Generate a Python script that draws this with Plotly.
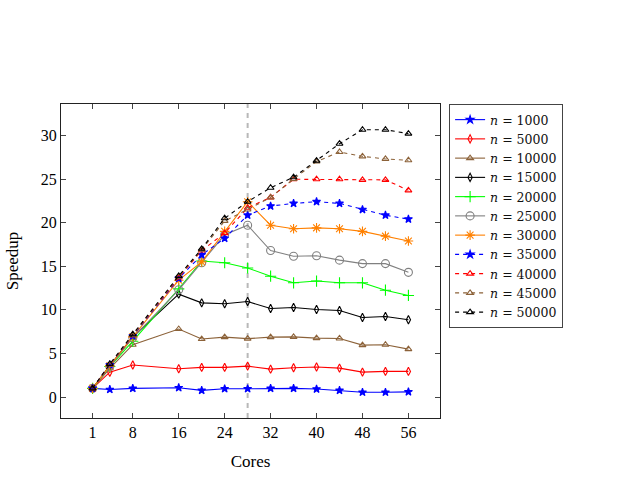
import plotly.graph_objects as go

cores = [1, 4, 8, 16, 20, 24, 28, 32, 36, 40, 44, 48, 52, 56]

n1000 = [1.0, 0.87, 1.0, 1.07, 0.77, 0.95, 0.95, 1.0, 1.0, 0.92, 0.77, 0.55, 0.55, 0.6]
n5000 = [1.0, 2.85, 3.67, 3.25, 3.4, 3.4, 3.55, 3.2, 3.36, 3.44, 3.32, 2.86, 2.94, 2.94]
n10000 = [1.0, 3.3, 6.0, 7.8, 6.65, 6.87, 6.7, 6.87, 6.9, 6.76, 6.72, 5.96, 6.0, 5.5]
n15000 = [1.0, 3.6, 6.9, 11.8, 10.8, 10.7, 10.95, 10.15, 10.27, 10.04, 9.93, 9.13, 9.24, 8.86]
n20000 = [1.0, 3.5, 6.4, 12.4, 15.6, 15.4, 14.8, 13.86, 13.1, 13.3, 13.1, 13.1, 12.25, 11.65]
n25000 = [1.0, 3.5, 6.8, 12.3, 15.4, 18.6, 19.7, 16.8, 16.15, 16.2, 15.7, 15.3, 15.3, 14.3]
n30000 = [1.0, 3.6, 6.9, 13.4, 15.5, 19.0, 22.4, 19.7, 19.3, 19.4, 19.3, 19.0, 18.45, 17.9]
n35000 = [1.0, 3.7, 7.0, 13.6, 16.3, 18.2, 20.85, 21.9, 22.2, 22.4, 22.2, 21.5, 20.85, 20.4]
n40000 = [1.0, 3.7, 7.1, 13.7, 16.8, 18.8, 21.7, 22.9, 24.97, 24.97, 24.97, 24.9, 24.9, 23.7]
n45000 = [1.0, 3.7, 7.1, 13.8, 16.9, 20.2, 21.5, 22.9, 25.0, 27.0, 28.1, 27.6, 27.3, 27.15]
n50000 = [1.0, 3.8, 7.2, 13.9, 17.0, 20.5, 22.4, 24.0, 25.2, 27.1, 29.05, 30.65, 30.65, 30.2]

labels = ["1000", "5000", "10000", "15000", "20000", "25000", "30000",
          "35000", "40000", "45000", "50000"]
x_ticks = [1, 8, 16, 24, 32, 40, 48, 56]
y_ticks = [0, 5, 10, 15, 20, 25, 30]
marker_line_x = 28

series = [n1000, n5000, n10000, n15000, n20000, n25000, n30000,
          n35000, n40000, n45000, n50000]
colors = ["#0000ff", "#ff0000", "#8c6239", "#000000", "#00ff00", "#808080",
          "#ff8000", "#0000ff", "#ff0000", "#8c6239", "#000000"]
symbols = ["star", "diamond-tall-open", "triangle-up-open", "diamond-tall-open",
           "cross-thin-open", "circle-open", "asterisk-open", "star",
           "triangle-up-open", "triangle-up-open", "triangle-up-open"]
sizes = [6, 6, 6, 6, 8, 8, 8, 6, 6, 6, 6]
dashes = ["solid"] * 7 + ["4px,4px"] * 4

FONT = "Liberation Serif"

fig = go.Figure()
for ys, lab, c, s, sz, d in zip(series, labels, colors, symbols, sizes, dashes):
    fig.add_trace(go.Scatter(
        x=cores, y=ys, mode="lines+markers",
        name="<i>n</i> = " + lab,
        line=dict(color=c, width=1.1, dash=d),
        marker=dict(symbol=s, size=sz, color=c, line=dict(color=c, width=1.1)),
    ))

fig.add_shape(type="line", x0=marker_line_x, x1=marker_line_x, y0=0, y1=1,
              xref="x", yref="paper",
              line=dict(color="#b8b8b8", width=2, dash="5px,5px"), layer="below")

fig.update_layout(
    width=625, height=490,
    margin=dict(l=61, r=185, t=104, b=72),
    paper_bgcolor="white", plot_bgcolor="white",
    font=dict(family=FONT, color="black", size=16),
    showlegend=True,
    legend=dict(x=1.024, y=1.0, xanchor="left", yanchor="top",
                bordercolor="#444", borderwidth=1,
                font=dict(family="DejaVu Serif", size=12.5, color="#111"),
                tracegroupgap=0, itemwidth=30),
    xaxis=dict(range=[-4.5, 61.5], tickvals=x_ticks, ticks="inside", ticklen=5,
               showline=True, linecolor="#222", linewidth=1.2, mirror="ticks",
               showgrid=False, zeroline=False,
               title=dict(text="Cores", font=dict(size=17), standoff=14),
               tickfont=dict(size=16)),
    yaxis=dict(range=[-2.4, 33.6], tickvals=y_ticks, ticks="inside", ticklen=5,
               showline=True, linecolor="#222", linewidth=1.2, mirror="ticks",
               showgrid=False, zeroline=False,
               title=dict(text="Speedup", font=dict(size=17), standoff=17),
               tickfont=dict(size=16)),
)

fig.write_html("out.html")
